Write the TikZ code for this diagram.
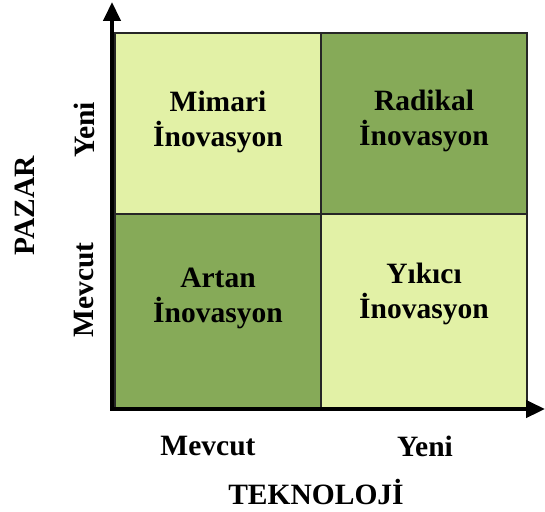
\documentclass[tikz,border=0pt]{standalone}
\usepackage{fontspec}
\setmainfont{Liberation Serif}
\usetikzlibrary{arrows.meta}
\definecolor{acik}{RGB}{226,241,166}
\definecolor{koyu}{RGB}{134,170,88}

\begin{document}
\begin{tikzpicture}[x=1pt,y=-1pt,
    hucre/.style={draw=black!85,line width=1.4pt},
    yazi/.style={align=center,font=\fontsize{29.5}{35}\selectfont\bfseries},
    eksen/.style={line width=4.5pt,-{Triangle[length=19pt,width=17pt]}}]
        \useasboundingbox (0,0) rectangle (545,511);
        % matrisin köşeleri
        \coordinate (A) at (115,408);
        \coordinate (B) at (527,408);
        \coordinate (C) at (527,33);
        \coordinate (D) at (115,33);
        \coordinate (M) at (321,214);

        % dört hücre
        \fill[acik] (D) rectangle (M);
        \fill[koyu] (M) rectangle (C);
        \fill[koyu] (A) rectangle (M);
        \fill[acik] (M) rectangle (B);
        \draw[hucre] (A) rectangle (C);
        \draw[hucre] (M |- D) -- (M |- A);
        \draw[hucre] (M -| A) -- (M -| B);

        \node[yazi] (mimari) at (218,122) {Mimari\\İnovasyon};
        \node[yazi] (radikal) at (424,121) {Radikal\\İnovasyon};
        \node[yazi] (artan) at (218,298) {Artan\\İnovasyon};
        \node[yazi] (yikici) at (424,294) {Yıkıcı\\İnovasyon};

        % eksenler
        \coordinate (O) at (112,409);
        \coordinate (Y) at (112,2);
        \coordinate (X) at (545,409);
        \draw[eksen] ([yshift=2pt]O) -- (Y);
        \draw[eksen] ([xshift=-2pt]O) -- (X);

        % eksen etiketleri
        \node[yazi,rotate=90] (pyeni) at (84,130) {Yeni};
        \node[yazi,rotate=90] (pmevcut) at (84,290) {Mevcut};
        \node[yazi,rotate=90] (pazar) at (25,206) {PAZAR};
        \node[yazi] (tmevcut) at (208,446) {Mevcut};
        \node[yazi] (tyeni) at (425,446) {Yeni};
        \node[yazi] (tekno) at (316,492) {TEKNOLOJİ};
    \end{tikzpicture}
\end{document}
